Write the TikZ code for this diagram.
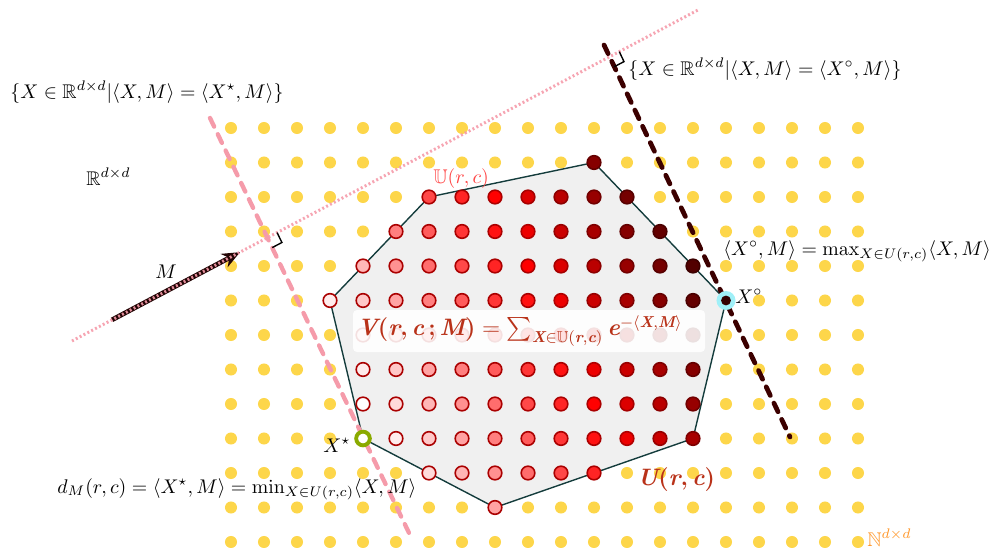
\documentclass[tikz,border=0pt]{standalone}
\usepackage{amsmath,amssymb}
\usetikzlibrary{arrows.meta,calc}
\definecolor{ydot}{RGB}{253,214,74}
\definecolor{polyfill}{RGB}{240,240,240}
\definecolor{polyedge}{RGB}{20,60,60}
\definecolor{pinkline}{RGB}{245,155,170}
\definecolor{darkline}{RGB}{60,0,0}
\definecolor{arrowcol}{RGB}{35,5,5}
\definecolor{vcol}{RGB}{185,50,25}
\definecolor{ucol}{RGB}{255,70,70}
\definecolor{ncol}{RGB}{255,150,40}
\definecolor{xstarcol}{RGB}{138,170,0}
\definecolor{xcirccol}{RGB}{160,240,248}
\newcommand\bi[1]{\text{\bfseries\itshape #1}}
\newcommand\bp[1]{\text{\bfseries #1}}
\tikzset{
  lbl/.style={inner sep=0pt, text=black},
  pinkdash/.style={pinkline, line width=2.2pt, line cap=round, dash pattern=on 4.8pt off 4.3pt},
  darkdash/.style={darkline, line width=2.4pt, line cap=round, dash pattern=on 4.8pt off 4.3pt},
  pinkdot/.style={pinkline, line width=1.5pt, dash pattern=on 1pt off 1.2pt, opacity=0.9},
  rmark/.style={black, line width=0.7pt},
}
\begin{document}
\begin{tikzpicture}[x=0.505pt,y=-0.505pt]
\useasboundingbox (0,0) rectangle (993,548);
% grid coordinates
\foreach \gi in {0,...,19}{\foreach \gj in {0,...,12}{
  \coordinate (g-\gi-\gj) at ({231+33*\gi},{128+34.5*\gj});}}
% yellow lattice
\foreach \gi in {0,...,19}{\foreach \gj in {0,...,12}{
  \fill[ydot] (g-\gi-\gj) circle[radius=3.05pt];}}
% polytope
\filldraw[fill=polyfill, draw=polyedge, line width=0.7pt]
  (g-6-2) -- (g-11-1) -- (g-15-5) -- (g-14-9) -- (g-11-10) -- (g-8-11) -- (g-4-9) -- (g-3-5) -- cycle;
% red points
\foreach \rj/\ra/\rb in {1/11/11,2/6/12,3/5/13,4/4/14,5/3/14,6/4/14,7/4/14,8/4/14,9/5/14,10/6/11,11/8/8}{
  \foreach \ri in {\ra,...,\rb}{
    \pgfmathsetmacro\myS{\ri-0.5*\rj}
    \pgfmathtruncatemacro\cR{\myS>7 ? 2.55*max(22,100-13.5*(\myS-7)) : 255}
    \pgfmathtruncatemacro\cG{\myS>7 ? 0 : 255*(1-max(0,min(1,\myS/7)))}
    \pgfmathtruncatemacro\eR{\myS>7 ? 0.75*\cR : 170}
    \definecolor{dc}{RGB}{\cR,\cG,\cG}
    \definecolor{de}{RGB}{\eR,0,0}
    \filldraw[fill=dc, draw=de, line width=0.8pt] (g-\ri-\rj) circle[radius=3.45pt];
  }}
% V label
\fill[white, opacity=0.88, rounded corners=2pt] (353,310) rectangle (705,352);
\node[lbl, text=vcol] (vlab) at (520,331) {\large$\bi{V}\bp{(}\bi{r}\bp{,}\,\bi{c}\,\bp{;}\,\bi{M}\bp{)} = \sum_{\bi{X}\in\mathbb{U}(\bi{r},\bi{c})} \bi{e}^{-\langle \bi{X},\bi{M}\rangle}$};
% lines
\coordinate (p1) at (72,341);
\coordinate (p2) at (698,10);
\coordinate (q1) at (210,118);
\coordinate (q2) at (410,535);
\coordinate (r1) at (604,45);
\coordinate (r2) at (790,437);
\coordinate (ma) at ($(p1)!0.0639!(p2)$);
\coordinate (mb) at ($(p1)!0.2684!(p2)$);
\draw[pinkdash] (q1) -- (q2);
\draw[darkdash] (r1) -- (r2);
\draw[arrowcol, line width=2.4pt, -{Stealth[length=9pt,width=7.5pt]}] (ma) -- (mb);
\draw[pinkdot] (p1) -- (p2);
% right angle marks
\draw[rmark] (277.1,232.6) -- (281.9,242.5) -- (272.2,247.6);
\draw[rmark] (619.3,51.7) -- (624.0,61.6) -- (614.3,66.7);
% special points
\filldraw[fill=white, draw=xstarcol, line width=1.95pt] (g-4-9) circle[radius=3.45pt];
\fill[xcirccol] (g-15-5) circle[radius=4.8pt];
\fill[black!80!red] (g-15-5) circle[radius=2.5pt];
% labels
\node[lbl, anchor=base west] (setstar) at (10,98) {$\{X\in\mathbb{R}^{d\times d}|\langle X,M\rangle=\langle X^\star,M\rangle\}$};
\node[lbl, anchor=base west] (setcirc) at (628,75) {$\{X\in\mathbb{R}^{d\times d}|\langle X,M\rangle=\langle X^\circ,M\rangle\}$};
\node[lbl, anchor=base west] (rdd) at (86,185) {$\mathbb{R}^{d\times d}$};
\node[lbl, anchor=base] (mlab) at (166,278) {$M$};
\node[lbl, anchor=base west, text=ucol] (ulab) at (433,183) {$\mathbb{U}(r,c)$};
\node[lbl, anchor=base west] (maxlab) at (723,255) {$\langle X^\circ,M\rangle=\max_{X\in U(r,c)}\langle X,M\rangle$};
\node[lbl, anchor=base west] (xcirclab) at (735,303) {$X^\circ$};
\node[lbl, anchor=base west] (xstarlab) at (323,452) {$X^\star$};
\node[lbl, anchor=base west] (dlab) at (57,493) {$d_M(r,c)=\langle X^\star,M\rangle=\min_{X\in U(r,c)}\langle X,M\rangle$};
\node[lbl, anchor=base west, text=vcol] (ubold) at (637,485) {\large$\bi{U}\bp{(}\bi{r}\bp{,}\,\bi{c}\bp{)}$};
\node[lbl, anchor=base west, text=ncol] (nlab) at (867,546) {$\mathbb{N}^{d\times d}$};
\end{tikzpicture}
\end{document}
